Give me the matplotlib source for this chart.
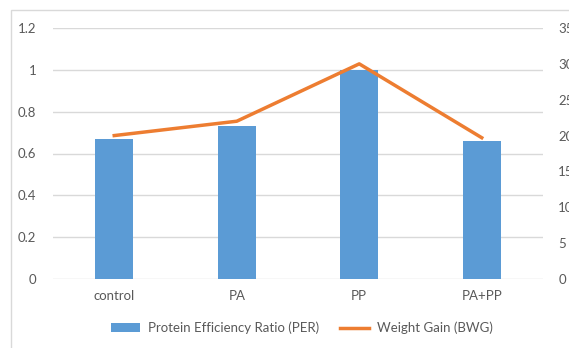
import matplotlib.pyplot as plt
from matplotlib.patches import Rectangle

categories = ['control', 'PA', 'PP', 'PA+PP']
per_values = [0.67, 0.73, 1.0, 0.66]
bwg_values = [20, 22, 30, 19.7]

plt.rcParams['font.family'] = ['Lato', 'DejaVu Sans']
text_color = '#595959'
grid_color = '#D9D9D9'

def main():
    fig = plt.figure(figsize=(5.69, 3.48), dpi=100)
    W, H = 569, 348
    # chart border (cropped on the right/bottom)
    fig.patches.append(Rectangle((11 / W, -0.1), 1.2, 1 - 10 / H + 0.1,
                                 transform=fig.transFigure, fill=False,
                                 edgecolor='#D9D9D9', linewidth=1))

    ax = fig.add_axes([53 / W, 1 - 279 / H, 490 / W, 251 / H])
    x = range(len(categories))
    bars = ax.bar(x, per_values, width=0.31, color='#5B9BD5', zorder=2,
                  label='Protein Efficiency Ratio (PER)')
    ax.set_xlim(-0.5, len(categories) - 0.5)
    ax.set_ylim(0, 1.2)
    ax.set_yticks([0, 0.2, 0.4, 0.6, 0.8, 1.0, 1.2])
    ax.set_yticklabels(['0', '0.2', '0.4', '0.6', '0.8', '1', '1.2'])
    ax.set_xticks(list(x))
    ax.set_xticklabels(categories)
    ax.grid(axis='y', color=grid_color, linewidth=1, zorder=0)
    for s in ax.spines.values():
        s.set_visible(False)
    ax.tick_params(length=0, colors=text_color, labelsize=9.5)
    ax.tick_params(axis='y', pad=12)
    ax.tick_params(axis='x', pad=8)

    ax2 = ax.twinx()
    line, = ax2.plot(x, bwg_values, color='#ED7D31', linewidth=2.5, zorder=3,
                     label='Weight Gain (BWG)')
    ax2.set_ylim(0, 35)
    ax2.set_yticks(range(0, 36, 5))
    for s in ax2.spines.values():
        s.set_visible(False)
    ax2.tick_params(length=0, colors=text_color, labelsize=9.5, pad=11)

    fig.legend([bars, line], ['Protein Efficiency Ratio (PER)', 'Weight Gain (BWG)'],
               loc='center', bbox_to_anchor=(0.53, 1 - 328 / H), ncol=2,
               frameon=False, fontsize=9.5, labelcolor=text_color,
               handlelength=2.2, handletextpad=0.6, columnspacing=1.6)

    fig.savefig('out.png', dpi=100)

if __name__ == "__main__":
    main()
